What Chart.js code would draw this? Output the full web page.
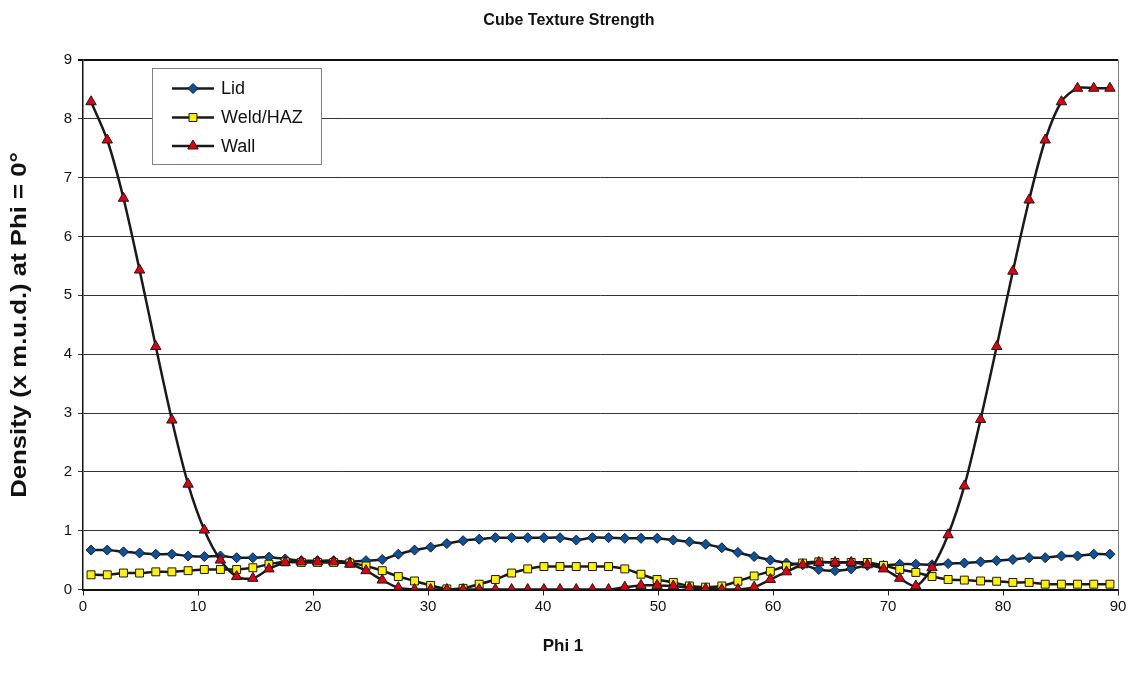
<!DOCTYPE html>
<html><head><meta charset="utf-8">
<script src="https://cdn.jsdelivr.net/npm/chart.js@4.4.1/dist/chart.umd.min.js"></script>
<style>html,body{margin:0;padding:0;background:#fff;}#wrap{width:1138px;height:682px;}</style>
</head><body><div id="wrap"><canvas id="c" width="1138" height="682"></canvas></div>
<script>
const chartTitle = 'Cube Texture Strength';
const xTitle = 'Phi 1';
const yTitle = 'Density (x m.u.d.) at Phi = 0°';
const seriesNames = ['Lid', 'Weld/HAZ', 'Wall'];
const xTicks = [0, 10, 20, 30, 40, 50, 60, 70, 80, 90];
const yTicks = [0, 1, 2, 3, 4, 5, 6, 7, 8, 9];
const phi = [0.70, 2.11, 3.52, 4.92, 6.33, 7.73, 9.14, 10.55, 11.95, 13.36, 14.77, 16.17, 17.58, 18.98, 20.39, 21.80,
  23.20, 24.61, 26.02, 27.42, 28.83, 30.23, 31.64, 33.05, 34.45, 35.86, 37.27, 38.67, 40.08, 41.48, 42.89, 44.30,
  45.70, 47.11, 48.52, 49.92, 51.33, 52.73, 54.14, 55.55, 56.95, 58.36, 59.77, 61.17, 62.58, 63.98, 65.39, 66.80,
  68.20, 69.61, 71.02, 72.42, 73.83, 75.23, 76.64, 78.05, 79.45, 80.86, 82.27, 83.67, 85.08, 86.48, 87.89, 89.30];
const lid = [0.67, 0.67, 0.64, 0.62, 0.60, 0.60, 0.57, 0.56, 0.57, 0.54, 0.54, 0.55, 0.52, 0.49, 0.49, 0.49,
  0.47, 0.49, 0.51, 0.60, 0.67, 0.72, 0.78, 0.83, 0.855, 0.88, 0.88, 0.88, 0.88, 0.88, 0.84, 0.88,
  0.88, 0.87, 0.87, 0.87, 0.84, 0.81, 0.77, 0.71, 0.63, 0.56, 0.50, 0.45, 0.42, 0.34, 0.32, 0.35,
  0.41, 0.41, 0.43, 0.43, 0.42, 0.44, 0.45, 0.47, 0.49, 0.51, 0.54, 0.54, 0.57, 0.57, 0.60, 0.60];
const weld = [0.25, 0.25, 0.28, 0.28, 0.30, 0.30, 0.32, 0.34, 0.34, 0.34, 0.37, 0.43, 0.47, 0.46, 0.46, 0.46,
  0.45, 0.40, 0.32, 0.22, 0.145, 0.07, 0.01, 0.02, 0.09, 0.17, 0.28, 0.35, 0.39, 0.39, 0.39, 0.39,
  0.39, 0.35, 0.26, 0.17, 0.12, 0.06, 0.04, 0.06, 0.14, 0.23, 0.31, 0.40, 0.45, 0.47, 0.46, 0.46,
  0.46, 0.41, 0.34, 0.29, 0.22, 0.17, 0.16, 0.145, 0.14, 0.12, 0.12, 0.09, 0.09, 0.09, 0.09, 0.09];
const wall = [8.29, 7.64, 6.65, 5.43, 4.13, 2.88, 1.79, 1.01, 0.50, 0.22, 0.19, 0.35, 0.46, 0.47, 0.47, 0.47,
  0.43, 0.32, 0.16, 0.03, 0.0, 0.0, 0.0, 0.0, 0.0, 0.0, 0.0, 0.0, 0.0, 0.0, 0.0, 0.0,
  0.0, 0.04, 0.07, 0.07, 0.06, 0.03, 0.01, 0.0, 0.0, 0.04, 0.17, 0.30, 0.42, 0.46, 0.46, 0.46,
  0.42, 0.35, 0.19, 0.06, 0.37, 0.93, 1.76, 2.89, 4.13, 5.41, 6.62, 7.64, 8.29, 8.52, 8.52, 8.52];

const FONT = "'Liberation Sans', Arial, sans-serif";
const LINE = '#1a1a1a';
const styles = [
  {pointStyle: 'rectRot', pointRadius: 5, pointBackgroundColor: '#0a52a0'},
  {pointStyle: 'rect', pointRadius: 5.6, pointBackgroundColor: '#fff200'},
  {pointStyle: 'triangle', pointRadius: 6, pointBackgroundColor: '#e00010'}
];
const values = [lid, weld, wall];
const datasets = values.map((arr, k) => Object.assign({
  label: seriesNames[k],
  data: phi.map((x, i) => ({x: x, y: arr[i]})),
  borderColor: LINE, borderWidth: 2.5, tension: 0.3,
  pointBorderColor: LINE, pointBorderWidth: 1, pointHoverRadius: 5,
  order: 2 - k
}, styles[k]));

function marker(ctx, st, x, y) {
  ctx.save();
  ctx.fillStyle = st.pointBackgroundColor; ctx.strokeStyle = LINE; ctx.lineWidth = 1;
  const r = st.pointRadius;
  ctx.beginPath();
  if (st.pointStyle === 'rectRot') { ctx.moveTo(x - r, y); ctx.lineTo(x, y - r); ctx.lineTo(x + r, y); ctx.lineTo(x, y + r); ctx.closePath(); }
  else if (st.pointStyle === 'rect') { const s = r * Math.SQRT1_2; ctx.rect(x - s, y - s, 2 * s, 2 * s); }
  else { ctx.moveTo(x, y - r); ctx.lineTo(x + r * 0.866, y + r * 0.5); ctx.lineTo(x - r * 0.866, y + r * 0.5); ctx.closePath(); }
  ctx.fill(); ctx.stroke(); ctx.restore();
}

const decor = {
  id: 'decor',
  afterDatasetsDraw(chart) {
    const ctx = chart.ctx, a = chart.chartArea;
    ctx.save();
    ctx.strokeStyle = '#808080'; ctx.lineWidth = 1;
    ctx.beginPath(); ctx.moveTo(a.right + 0.5, a.top); ctx.lineTo(a.right + 0.5, a.bottom); ctx.stroke();
    // legend
    const bx = 152, by = 68, bw = 169, bh = 96;
    ctx.fillStyle = '#fff'; ctx.fillRect(bx, by, bw, bh);
    ctx.strokeStyle = '#808080'; ctx.strokeRect(bx + 0.5, by + 0.5, bw, bh);
    const rows = [88.5, 117.5, 146];
    seriesNames.forEach((n, k) => {
      const y = rows[k];
      ctx.strokeStyle = LINE; ctx.lineWidth = 2.5;
      ctx.beginPath(); ctx.moveTo(172, y); ctx.lineTo(214, y); ctx.stroke();
      marker(ctx, styles[k], 193, y);
      ctx.fillStyle = '#111'; ctx.font = '18px ' + FONT; ctx.textBaseline = 'middle'; ctx.textAlign = 'left';
      ctx.fillText(n, 221, y + 1);
    });
    // axis titles
    ctx.fillStyle = '#111'; ctx.textAlign = 'center'; ctx.textBaseline = 'middle';
    ctx.font = 'bold 17px ' + FONT;
    ctx.fillText(xTitle, 563, 646);
    ctx.translate(20, 325); ctx.rotate(-Math.PI / 2); ctx.scale(1.17, 1);
    ctx.font = 'bold 22px ' + FONT;
    ctx.fillText(yTitle, 0, 0);
    ctx.restore();
  }
};

new Chart(document.getElementById('c'), {
  type: 'line',
  data: {datasets: datasets},
  options: {
    responsive: false, animation: false, devicePixelRatio: 1,
    layout: {padding: {left: 20, right: 20, top: 0, bottom: 0}},
    plugins: {
      legend: {display: false}, tooltip: {enabled: false},
      title: {display: true, text: chartTitle, color: '#111',
        font: {family: FONT, size: 16, weight: 'bold', lineHeight: 1.2}, padding: {top: 11, bottom: 29.8}}
    },
    scales: {
      x: {type: 'linear', min: 0, max: 90,
        afterBuildTicks: s => { s.ticks = xTicks.map(v => ({value: v})); },
        afterFit: s => { s.height = 92.5; },
        ticks: {color: '#111', font: {family: FONT, size: 15}, padding: 2, maxRotation: 0},
        grid: {drawOnChartArea: false, drawTicks: true, tickLength: 6, color: '#222', lineWidth: 1},
        border: {color: '#111', width: 2}},
      y: {type: 'linear', min: 0, max: 9,
        afterBuildTicks: s => { s.ticks = yTicks.map(v => ({value: v})); },
        afterFit: s => { s.width = 63; },
        ticks: {color: '#111', font: {family: FONT, size: 15}, padding: 6},
        grid: {color: ctx => ctx.tick && ctx.tick.value === 9 ? '#111' : '#333',
               lineWidth: ctx => ctx.tick && ctx.tick.value === 9 ? 2 : 1,
               tickLength: 5, drawTicks: true},
        border: {color: '#111', width: 1.5}}
    }
  },
  plugins: [decor]
});
</script></body></html>
